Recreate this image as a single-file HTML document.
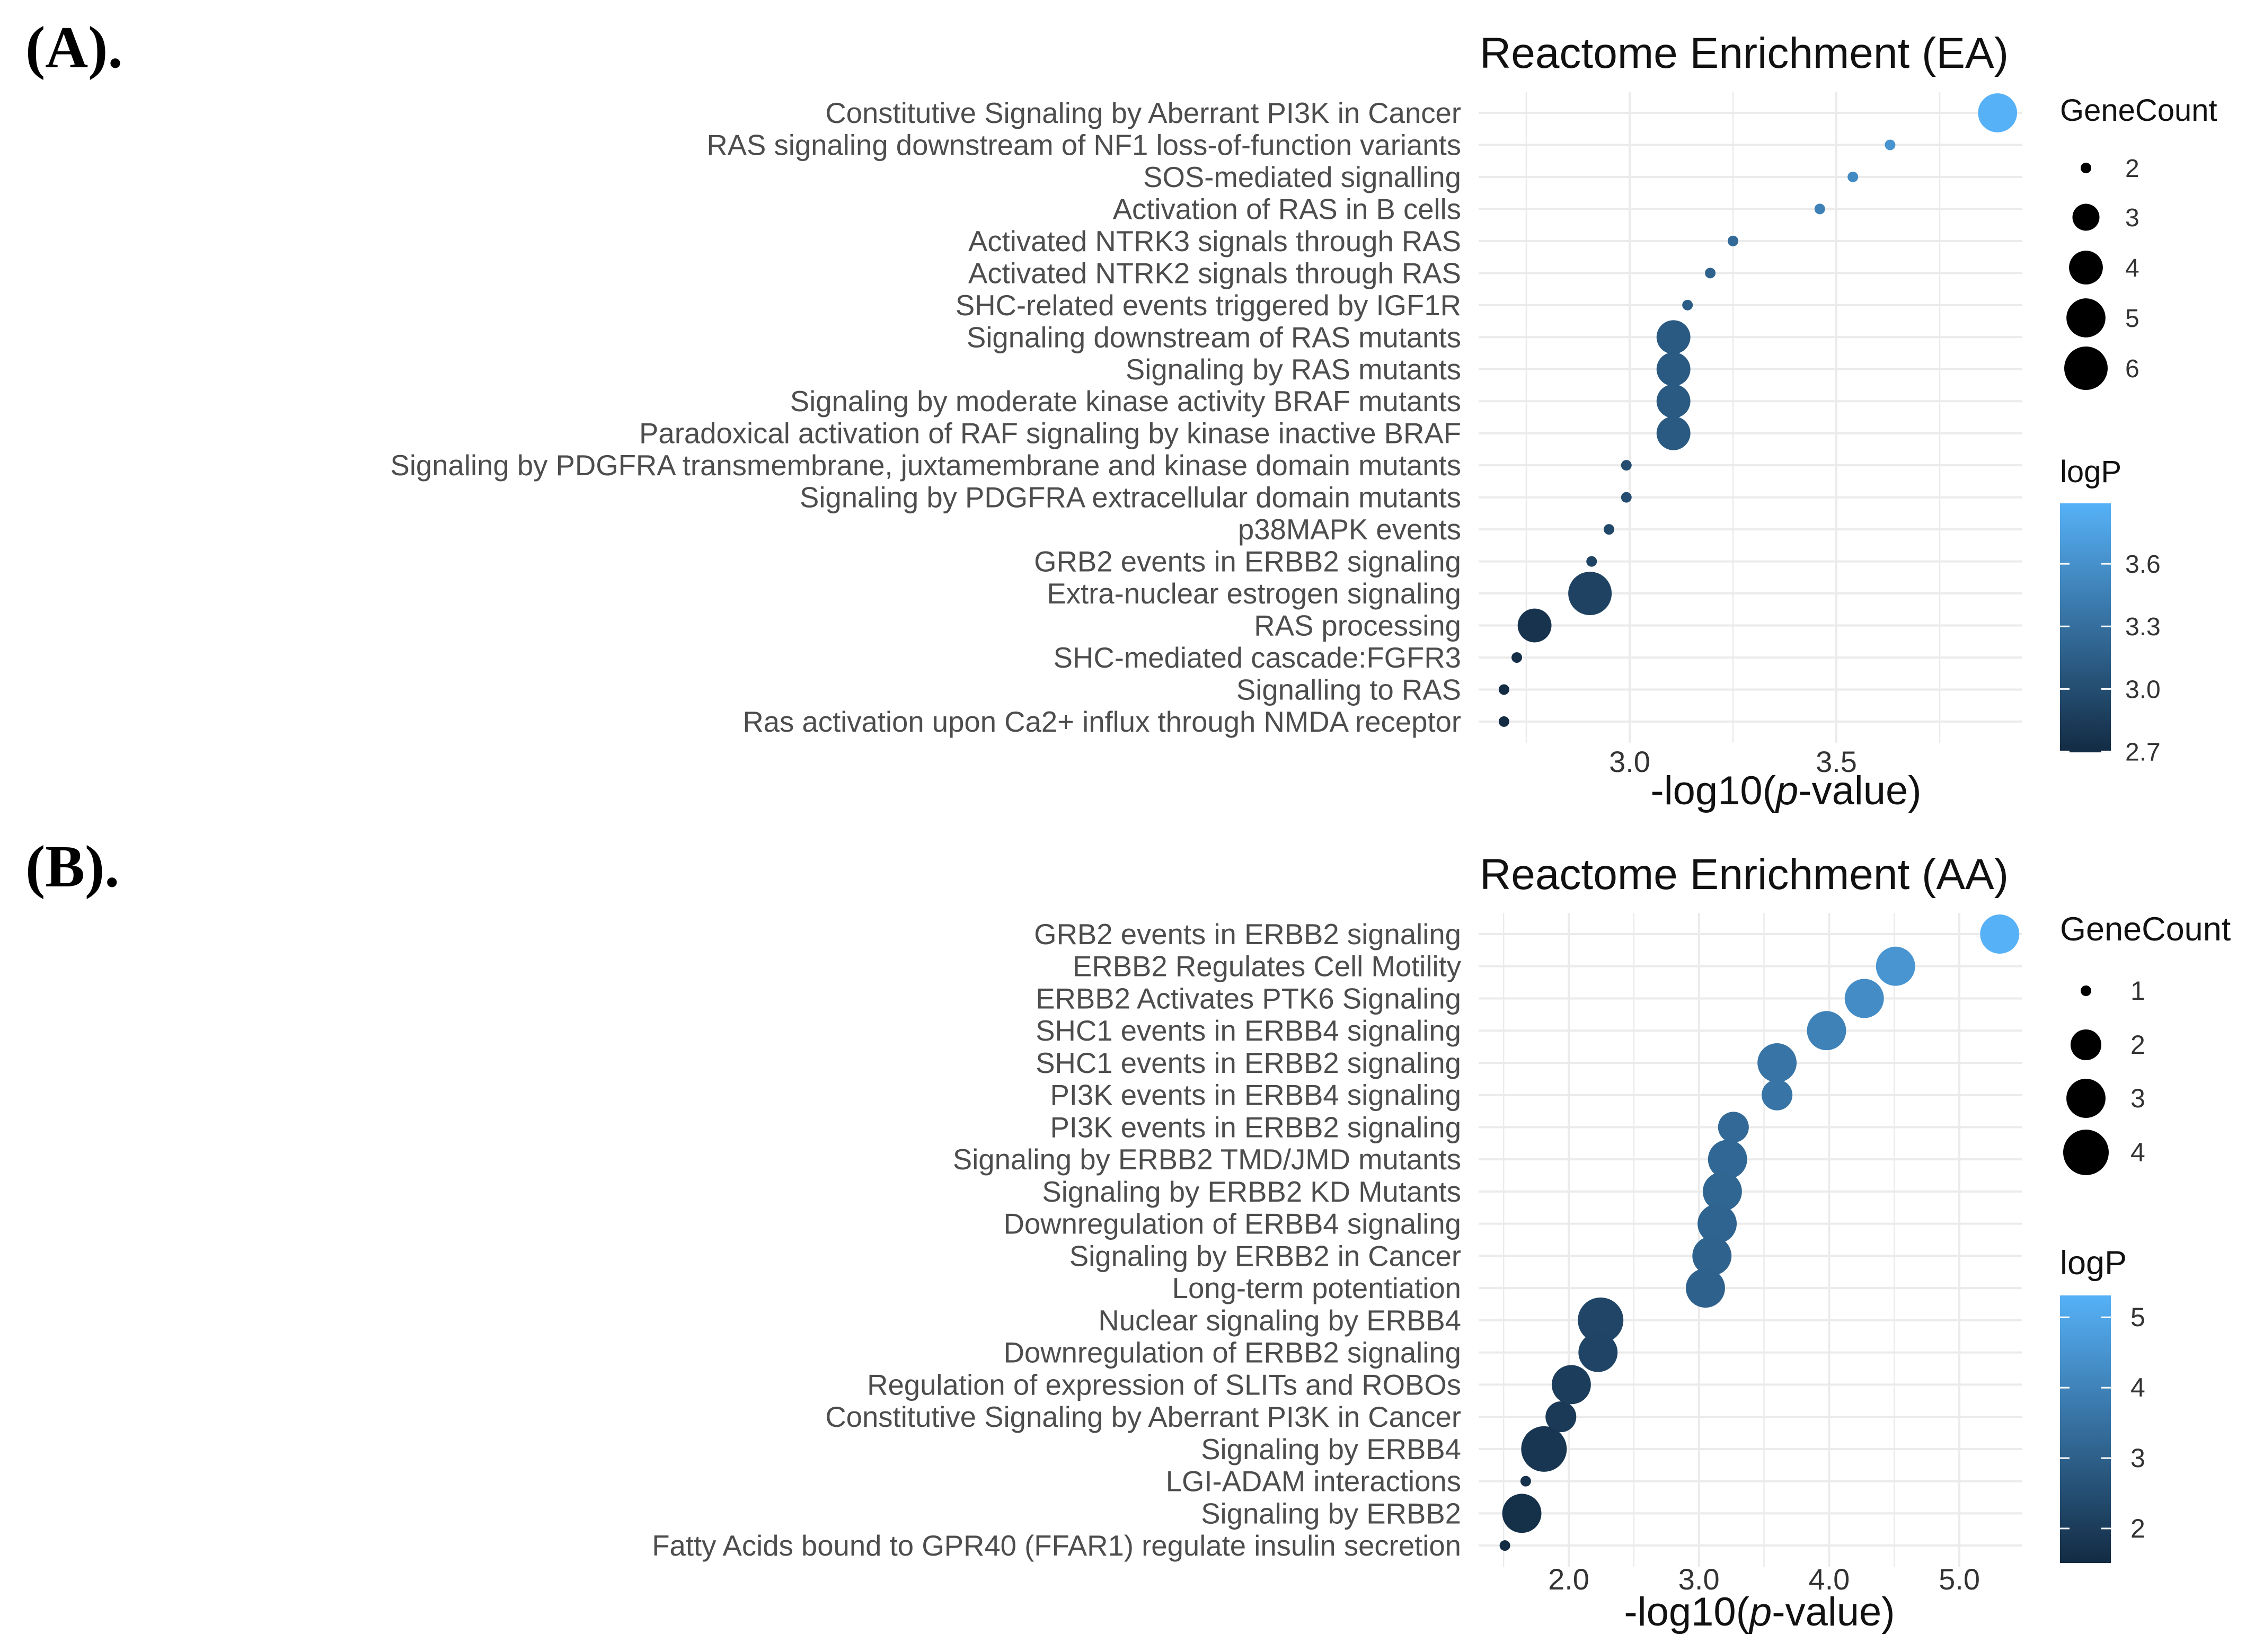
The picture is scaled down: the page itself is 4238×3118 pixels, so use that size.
<!DOCTYPE html>
<html><head><meta charset="utf-8"><style>
html,body{margin:0;padding:0;background:#fff;}
svg{display:block;}
text{font-family:"Liberation Sans",sans-serif;}
</style></head><body>
<svg id="fig" width="4238" height="3118" viewBox="0 0 4238 3118" xmlns="http://www.w3.org/2000/svg">
<rect width="4238" height="3118" fill="#fff"/>
<text x="48" y="127" font-family="Liberation Serif" font-weight="bold" font-size="112" style="font-family:'Liberation Serif',serif">(A).</text>
<text x="48" y="1673" font-family="Liberation Serif" font-weight="bold" font-size="112" style="font-family:'Liberation Serif',serif">(B).</text>
<g id="pa"></g>
<g id="pb"></g>
</svg>
<script>
const aLabels = ["Constitutive Signaling by Aberrant PI3K in Cancer","RAS signaling downstream of NF1 loss-of-function variants","SOS-mediated signalling","Activation of RAS in B cells","Activated NTRK3 signals through RAS","Activated NTRK2 signals through RAS","SHC-related events triggered by IGF1R","Signaling downstream of RAS mutants","Signaling by RAS mutants","Signaling by moderate kinase activity BRAF mutants","Paradoxical activation of RAF signaling by kinase inactive BRAF","Signaling by PDGFRA transmembrane, juxtamembrane and kinase domain mutants","Signaling by PDGFRA extracellular domain mutants","p38MAPK events","GRB2 events in ERBB2 signaling","Extra-nuclear estrogen signaling","RAS processing","SHC-mediated cascade:FGFR3","Signalling to RAS","Ras activation upon Ca2+ influx through NMDA receptor"];
const aValues = [3.89,3.63,3.54,3.46,3.25,3.195,3.14,3.106,3.106,3.106,3.106,2.992,2.992,2.95,2.908,2.904,2.77,2.727,2.696,2.696];
const aCounts = [5,2,2,2,2,2,2,4,4,4,4,2,2,2,2,6,4,2,2,2];
const aXTicks = [3.0,3.5];
const aXTickLabels = ["3.0","3.5"];
const aSizeLegend = [2,3,4,5,6];
const aColorTicks = [3.6,3.3,3.0,2.7];
const aColorTickLabels = ["3.6","3.3","3.0","2.7"];

const bLabels = ["GRB2 events in ERBB2 signaling","ERBB2 Regulates Cell Motility","ERBB2 Activates PTK6 Signaling","SHC1 events in ERBB4 signaling","SHC1 events in ERBB2 signaling","PI3K events in ERBB4 signaling","PI3K events in ERBB2 signaling","Signaling by ERBB2 TMD/JMD mutants","Signaling by ERBB2 KD Mutants","Downregulation of ERBB4 signaling","Signaling by ERBB2 in Cancer","Long-term potentiation","Nuclear signaling by ERBB4","Downregulation of ERBB2 signaling","Regulation of expression of SLITs and ROBOs","Constitutive Signaling by Aberrant PI3K in Cancer","Signaling by ERBB4","LGI-ADAM interactions","Signaling by ERBB2","Fatty Acids bound to GPR40 (FFAR1) regulate insulin secretion"];
const bValues = [5.31,4.51,4.27,3.98,3.60,3.60,3.265,3.22,3.18,3.14,3.10,3.05,2.245,2.225,2.02,1.94,1.81,1.67,1.64,1.51];
const bCounts = [3,3,3,3,3,2,2,3,3,3,3,3,4,3,3,2,4,1,3,1];
const bXTicks = [2.0,3.0,4.0,5.0];
const bXTickLabels = ["2.0","3.0","4.0","5.0"];
const bSizeLegend = [1,2,3,4];
const bColorTicks = [5,4,3,2];
const bColorTickLabels = ["5","4","3","2"];

const NS="http://www.w3.org/2000/svg";
function mk(parent,tag,attrs,txt){const e=document.createElementNS(NS,tag);for(const k in attrs)e.setAttribute(k,attrs[k]);if(txt!==undefined)e.textContent=txt;parent.appendChild(e);return e;}
function lerpColor(t){const lo=[0x13,0x2B,0x43],hi=[0x56,0xB1,0xF7];t=Math.max(0,Math.min(1,t));return "rgb("+lo.map((c,i)=>Math.round(c+(hi[i]-c)*t)).join(",")+")";}

function drawPanel(g,cfg){
  const {labels,values,counts,xTicks,xTickLabels,sizeLegend,colorTicks,colorTickLabels,title,top,rowStep,x0px,x0val,pxPerUnit,minorStep,xLo,xHi,r0,r1,cbTop,cbBot,gcTitleY,gcItemsY,logpTitleY,tickY,axisTitleX,axisTitleY,gcLabelX,domainMin,domainMax,legFont,legTitleFont} = cfg;
  const xs = v => x0px + (v - x0val)*pxPerUnit;
  const ys = i => top + i*rowStep;
  const cMin = Math.min(...counts.concat(sizeLegend)), cMax = Math.max(...counts.concat(sizeLegend));
  const rs = n => r0 + (r1-r0)*Math.sqrt((n-cMin)/(cMax-cMin));
  const vMin = domainMin, vMax = domainMax;
  const col = v => lerpColor((v-vMin)/(vMax-vMin));
  const panelL = 2790, panelR = 3815;
  const LX = 3887;
  const t = mk(g,'text',{x:2792,y:top-85,'font-size':82,fill:'#111'},title);
  
  
  const firstMinor = Math.ceil(xLo/minorStep)*minorStep;
  for(let v=firstMinor; v<=xHi+1e-9; v+=minorStep){
    const isMajor = xTicks.some(tk=>Math.abs(tk-v)<1e-6);
    const ln = mk(g,'line',{x1:xs(v),x2:xs(v),y1:top-40,y2:ys(labels.length-1)+40,stroke:'#ebebeb','stroke-width':isMajor?4:2.5});
    
    
  }
  labels.forEach((lab,i)=>{
    const ln = mk(g,'line',{x1:panelL,x2:panelR,y1:ys(i),y2:ys(i),stroke:'#ebebeb','stroke-width':4});
    
    
    const tx = mk(g,'text',{x:2757,y:ys(i)+19,'font-size':54.5,fill:'#4d4d4d','text-anchor':'end'},lab);
    
    
  });
  labels.forEach((lab,i)=>{
    const c = mk(g,'circle',{cx:xs(values[i]),cy:ys(i),r:rs(counts[i]),fill:col(values[i])});
    
    
  });
  xTicks.forEach((v,i)=>{
    const tx = mk(g,'text',{x:xs(v),y:tickY,'font-size':56,fill:'#333','text-anchor':'middle'},xTickLabels[i]);
    
    
  });
  const at = mk(g,'text',{x:axisTitleX,y:axisTitleY,'font-size':76,fill:'#111','text-anchor':'middle'});
  
  
  mk(at,'tspan',{},'-log10(');
  mk(at,'tspan',{'font-style':'italic'},'p');
  mk(at,'tspan',{},'-value)');
  const gt = mk(g,'text',{x:LX,y:gcTitleY,'font-size':legTitleFont,fill:'#111'},'GeneCount');
  
  
  sizeLegend.forEach((n,i)=>{
    const c = mk(g,'circle',{cx:3936,cy:gcItemsY[i],r:rs(n),fill:'#000'});
    
    
    const tx = mk(g,'text',{x:gcLabelX,y:gcItemsY[i]+17,'font-size':legFont,fill:'#333'},String(n));
    
    
  });
  const lt = mk(g,'text',{x:LX,y:logpTitleY,'font-size':legTitleFont,fill:'#111'},'logP');
  
  
  const gid = 'grad'+title.replace(/\W/g,'');
  const defs = mk(g,'defs',{});
  const lg = mk(defs,'linearGradient',{id:gid,x1:0,y1:1,x2:0,y2:0});
  for(let k=0;k<=10;k++){mk(lg,'stop',{offset:k/10,'stop-color':lerpColor(k/10)});}
  const bar = mk(g,'rect',{x:LX,y:cbTop,width:96,height:cbBot-cbTop,fill:'url(#'+gid+')'});
  
  
  const cy = v => cbBot - (v-vMin)/(vMax-vMin)*(cbBot-cbTop);
  colorTicks.forEach((v,i)=>{
    const y = cy(v);
    mk(g,'line',{x1:LX,x2:LX+18,y1:y,y2:y,stroke:'#fff','stroke-width':3});
    mk(g,'line',{x1:LX+78,x2:LX+96,y1:y,y2:y,stroke:'#fff','stroke-width':3});
    const tx = mk(g,'text',{x:gcLabelX,y:y+17,'font-size':legFont,fill:'#333'},colorTickLabels[i]);
    
    
  });
}
drawPanel(document.getElementById('pa'),{
  labels:aLabels,values:aValues,counts:aCounts,xTicks:aXTicks,xTickLabels:aXTickLabels,sizeLegend:aSizeLegend,
  colorTicks:aColorTicks,colorTickLabels:aColorTickLabels,title:'Reactome Enrichment (EA)',
  top:213,rowStep:60.47,x0px:3075,x0val:3.0,pxPerUnit:780,minorStep:0.25,xLo:2.64,xHi:3.94,r0:10,r1:41,
  cbTop:950,cbBot:1420,gcTitleY:228,gcItemsY:[317,410,505,600,695],logpTitleY:910,tickY:1457,
  axisTitleX:3370,axisTitleY:1518,gcLabelX:4010,domainMin:2.696,domainMax:3.89,legFont:48,legTitleFont:58});
drawPanel(document.getElementById('pb'),{
  labels:bLabels,values:bValues,counts:bCounts,xTicks:bXTicks,xTickLabels:bXTickLabels,sizeLegend:bSizeLegend,
  colorTicks:bColorTicks,colorTickLabels:bColorTickLabels,title:'Reactome Enrichment (AA)',
  top:1763,rowStep:60.74,x0px:2960,x0val:2.0,pxPerUnit:245.7,minorStep:0.5,xLo:1.31,xHi:5.48,r0:10,r1:43,
  cbTop:2445,cbBot:2950,gcTitleY:1775,gcItemsY:[1870,1972,2073,2175],logpTitleY:2405,tickY:3000,
  axisTitleX:3320,axisTitleY:3068,gcLabelX:4020,domainMin:1.51,domainMax:5.31,legFont:50,legTitleFont:63});
</script>
</body></html>
